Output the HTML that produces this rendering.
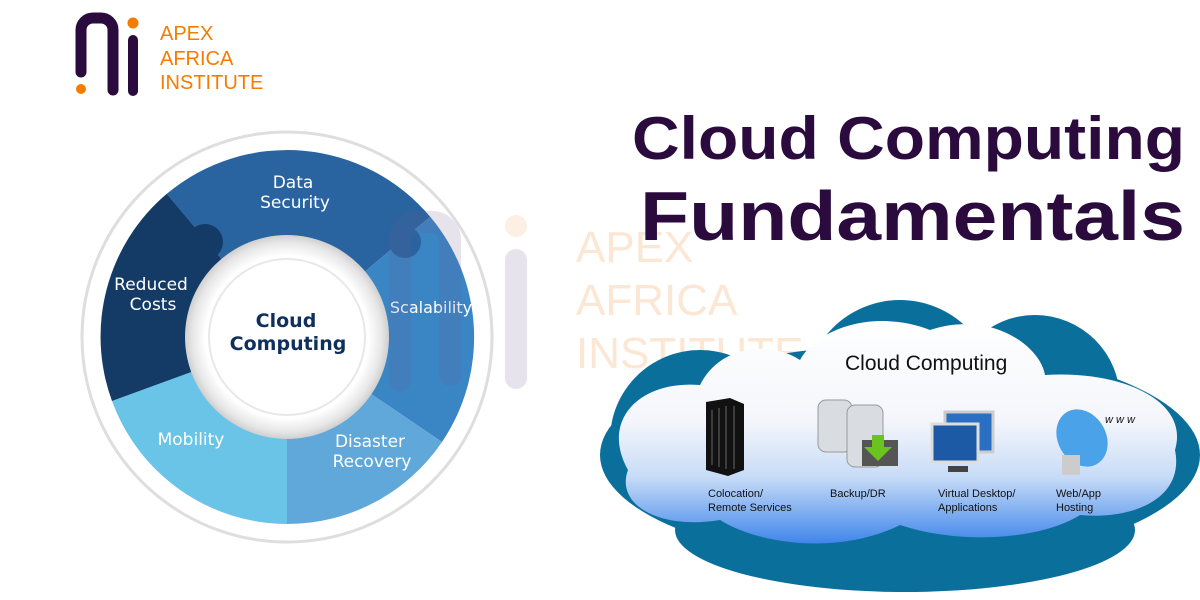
<!DOCTYPE html>
<html><head><style>
html,body{margin:0;padding:0;background:#fff}
body{width:1200px;height:600px;overflow:hidden;position:relative;font-family:"Liberation Sans",sans-serif}
svg{position:absolute;left:0;top:0}
</style></head><body>
<svg width="1200" height="600" viewBox="0 0 1200 600" xmlns="http://www.w3.org/2000/svg">
<defs>
<linearGradient id="cg" x1="0" y1="0" x2="0" y2="1">
<stop offset="0" stop-color="#ffffff"/><stop offset="0.45" stop-color="#f4f6fb"/><stop offset="0.7" stop-color="#c8dcf7"/><stop offset="1" stop-color="#3f86ea"/></linearGradient>
<radialGradient id="ring" cx="0.5" cy="0.5" r="0.5"><stop offset="0.8" stop-color="#fff"/><stop offset="0.93" stop-color="#e6e6e6"/><stop offset="1" stop-color="#cfcfcf"/></radialGradient>
</defs>
<!-- logo -->
<path d="M81 72 V30 a12 12 0 0 1 12-12 h8 a12 12 0 0 1 12 12 V90" fill="none" stroke="#2b0a3d" stroke-width="11" stroke-linecap="round" stroke-linejoin="round"/>
<circle cx="81" cy="89" r="5" fill="#f57c00"/>
<circle cx="133" cy="23" r="5.5" fill="#f57c00"/>
<line x1="133" y1="40" x2="133" y2="91" stroke="#2b0a3d" stroke-width="10" stroke-linecap="round"/>
<g font-size="20" fill="#f57c00" font-family="Liberation Sans, sans-serif">
<text x="160" y="40">APEX</text><text x="160" y="65">AFRICA</text><text x="160" y="89">INSTITUTE</text></g>
<!-- puzzle ring -->
<circle cx="287" cy="337" r="205" fill="#fff" stroke="#dedede" stroke-width="3"/>
<g transform="translate(287,337)">
<path d="M0 0 L-120.2 -143.2 A187 187 0 0 1 143.2 -120.2 Z" fill="#2a64a0"/>
<path d="M0 0 L143.2 -120.2 A187 187 0 0 1 155 105 Z" fill="#3a86c4"/>
<path d="M0 0 L155 105 A187 187 0 0 1 0 187 Z" fill="#5fa8d9"/>
<path d="M0 0 L0 187 A187 187 0 0 1 -175 64 Z" fill="#6ac4e8"/>
<path d="M0 0 L-175 64 A187 187 0 0 1 -120.2 -143.2 Z" fill="#143a66"/>
<circle cx="-82" cy="-95" r="18" fill="#143a66"/>
<circle cx="-95" cy="110" r="17" fill="#6ac4e8"/>
<circle cx="18" cy="123" r="16" fill="#5fa8d9"/>
<circle cx="128" cy="62" r="17" fill="#3a86c4"/>
<circle cx="118" cy="-95" r="16" fill="#2a64a0"/>
<circle cx="0" cy="0" r="102" fill="url(#ring)"/>
<circle cx="0" cy="0" r="78" fill="#fff" stroke="#e8e8e8" stroke-width="2"/>
</g>
<g fill="#fff" font-size="17" text-anchor="middle" font-family="DejaVu Sans, sans-serif">
<text x="293" y="188">Data</text><text x="295" y="208">Security</text>
<text x="151" y="290">Reduced</text><text x="153" y="310">Costs</text>
<text x="431" y="313" font-size="16">Scalability</text>
<text x="191" y="445">Mobility</text>
<text x="370" y="447">Disaster</text><text x="372" y="467">Recovery</text>
</g>
<g fill="#0f2f5c" font-size="19" font-weight="bold" text-anchor="middle" font-family="DejaVu Sans, sans-serif">
<text x="286" y="327">Cloud</text><text x="288" y="350">Computing</text></g>
<!-- watermark -->
<g opacity="0.16">
<path d="M400 380 V240 a18 18 0 0 1 18-18 h14 a18 18 0 0 1 18 18 V375" fill="none" stroke="#6b5a90" stroke-width="22" stroke-linecap="round"/>
<circle cx="516" cy="226" r="11" fill="#f5a25a"/>
<line x1="516" y1="260" x2="516" y2="378" stroke="#6b5a90" stroke-width="22" stroke-linecap="round"/>
</g>
<g fill="#fbd7b8" opacity="0.6" font-size="44">
<text x="576" y="262">APEX</text><text x="576" y="315">AFRICA</text><text x="576" y="368">INSTITUTE</text></g>
<!-- title -->
<g fill="#2b0a3d" font-weight="bold" font-family="Liberation Sans, sans-serif">
<text x="632" y="159" font-size="60" textLength="553" lengthAdjust="spacingAndGlyphs">Cloud Computing</text>
<text x="640" y="240" font-size="70" textLength="545" lengthAdjust="spacingAndGlyphs">Fundamentals</text></g>
<!-- cloud -->
<g fill="#0b6f9c">
<ellipse cx="900" cy="455" rx="300" ry="110"/>
<circle cx="900" cy="395" r="95"/><circle cx="1035" cy="400" r="85"/><circle cx="700" cy="440" r="90"/>
<ellipse cx="905" cy="530" rx="230" ry="62"/>
</g>
<g fill="url(#cg)">
<path d="M628 470 C600 420 640 380 700 385 C720 345 770 340 800 360 C820 325 880 310 930 330 C990 310 1040 345 1045 375 C1120 370 1190 400 1175 450 C1185 500 1130 520 1080 515 C1040 540 960 545 900 525 C840 555 760 545 720 520 C660 530 615 505 628 470 Z"/>
</g>
<text x="845" y="370" font-size="21" fill="#111">Cloud Computing</text>
<!-- icons -->
<g>
<path d="M706 402 L730 398 L744 404 L744 470 L728 476 L706 470 Z" fill="#111"/>
<g stroke="#666" stroke-width="1"><line x1="712" y1="410" x2="712" y2="465"/><line x1="719" y1="408" x2="719" y2="467"/><line x1="726" y1="406" x2="726" y2="469"/><line x1="734" y1="406" x2="734" y2="469"/></g>
<g fill="#d9dde2" stroke="#999"><rect x="818" y="400" width="34" height="52" rx="8"/><rect x="847" y="405" width="36" height="62" rx="8"/></g>
<rect x="862" y="440" width="36" height="26" fill="#555"/>
<path d="M872 435 h12 v12 h8 l-14 14 l-14 -14 h8z" fill="#6cc21e"/>
<rect x="945" y="412" width="48" height="40" fill="#2a6fc1" stroke="#ccc" stroke-width="3"/>
<rect x="932" y="424" width="46" height="38" fill="#1d5aa6" stroke="#ddd" stroke-width="3"/>
<rect x="948" y="466" width="20" height="6" fill="#444"/>
<ellipse cx="1082" cy="438" rx="24" ry="30" fill="#4aa3e8" transform="rotate(-30 1082 438)"/>
<rect x="1062" y="455" width="18" height="20" fill="#ccc"/>
<text x="1105" y="423" font-size="11" font-style="italic" fill="#111">w w w</text>
</g>
<g font-size="11" fill="#111">
<text x="708" y="497">Colocation/</text><text x="708" y="511">Remote Services</text>
<text x="830" y="497">Backup/DR</text>
<text x="938" y="497">Virtual Desktop/</text><text x="938" y="511">Applications</text>
<text x="1056" y="497">Web/App</text><text x="1056" y="511">Hosting</text>
</g>
</svg>
</body></html>
